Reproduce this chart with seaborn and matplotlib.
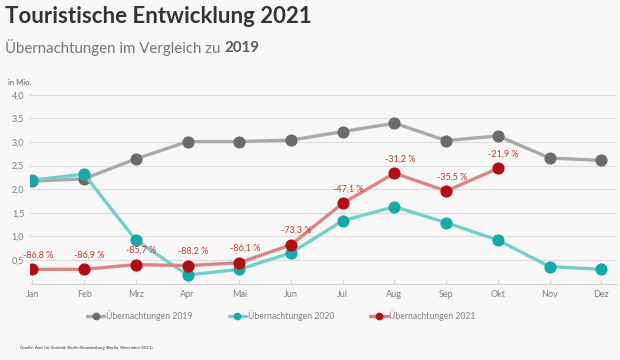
import matplotlib
matplotlib.use("Agg")
import matplotlib.pyplot as plt
import pandas as pd
import seaborn as sns

# Data
months = ["Jan", "Feb", "Mrz", "Apr", "Mai", "Jun", "Jul", "Aug", "Sep", "Okt", "Nov", "Dez"]
nights_2019 = [2.17, 2.22, 2.64, 3.01, 3.01, 3.04, 3.22, 3.40, 3.03, 3.13, 2.66, 2.61]
nights_2020 = [2.19, 2.32, 0.92, 0.18, 0.30, 0.65, 1.33, 1.63, 1.29, 0.92, 0.36, 0.30]
nights_2021 = [0.30, 0.30, 0.40, 0.38, 0.44, 0.82, 1.70, 2.34, 1.96, 2.44]
change_2021 = ["-86,8 %", "-86,9 %", "-85,7 %", "-88,2 %", "-86,1 %", "-73,3 %",
               "-47,1 %", "-31,2 %", "-35,5 %", "-21,9 %"]
yticks = [0.5, 1.0, 1.5, 2.0, 2.5, 3.0, 3.5, 4.0]

bg = "#f7f7f7"
sns.set_style("white")
plt.rcParams["font.family"] = ["Lato", "DejaVu Sans"]

fig = plt.figure(figsize=(6.2, 3.6), dpi=100)
fig.set_facecolor(bg)
ax = fig.add_axes([0.048, 0.2125, 0.947, 0.524])
ax.set_facecolor(bg)

series = [
    ("Übernachtungen 2019", nights_2019, "#a9a9a9", "#6b6b6b"),
    ("Übernachtungen 2020", nights_2020, "#74cfc9", "#16a9a6"),
    ("Übernachtungen 2021", nights_2021, "#d98585", "#b00d14"),
]
for label, vals, lc, mc in series:
    df = pd.DataFrame({"Monat": months[:len(vals)], "Wert": vals})
    sns.lineplot(data=df, x="Monat", y="Wert", ax=ax, color=lc, linewidth=2.4,
                 marker="o", markersize=8, markerfacecolor=mc, markeredgecolor=mc,
                 label=label, sort=False)

# percentage labels above the 2021 points
for i, (v, t) in enumerate(zip(nights_2021, change_2021)):
    ax.annotate(t, (i, v), xytext=(4, 7), textcoords="offset points",
                ha="center", va="bottom", fontsize=6.5, color="#c0392b")

ax.set_xlim(-0.05, 11.3)
ax.set_ylim(0, 4.0)
ax.set_yticks(yticks)
ax.set_yticklabels([f"{t:.1f}".replace(".", ",") for t in yticks])
ax.set_xticks(range(len(months)))
ax.set_xticklabels(months)
ax.grid(axis="y", color="#dcdcdc", linewidth=0.8)
ax.set_axisbelow(True)
for s in ["top", "right", "left"]:
    ax.spines[s].set_visible(False)
ax.spines["bottom"].set_color("#d0d0d0")
ax.tick_params(axis="x", colors="#d0d0d0", labelcolor="#7f7f7f", labelsize=6.5,
               length=3, direction="in", pad=5, bottom=True)
ax.tick_params(axis="y", labelcolor="#7f7f7f", labelsize=6.5, length=0, pad=4)
ax.set_xlabel("")
ax.set_ylabel("")

handles, labels = ax.get_legend_handles_labels()
ax.legend_.remove()
leg = fig.legend(handles, labels, loc="center", bbox_to_anchor=(0.454, 0.123), ncol=3,
                 frameon=False, fontsize=6.2, handlelength=2.0, columnspacing=4.2,
                 handletextpad=0.2, markerscale=0.6)
for txt in leg.get_texts():
    txt.set_color("#7f7f7f")

fig.text(0.013, 0.77, "in Mio.", fontsize=5.5, color="#595959", va="center")

# title and subtitle
fig.text(0.008, 0.955, "Touristische Entwicklung 2021", fontsize=16, fontweight="bold",
         color="#333333", va="center")
sub = fig.text(0.008, 0.868, "Übernachtungen im Vergleich zu ", fontsize=10.8,
               color="#767676", va="center")
fig.canvas.draw()
bb = sub.get_window_extent().transformed(fig.transFigure.inverted())
fig.text(bb.x1, 0.868, "2019", fontsize=10.8, fontweight="bold", color="#595959", va="center")

fig.text(0.032, 0.03, "Quelle: Amt für Statistik Berlin-Brandenburg (Berlin, November 2021)",
         fontsize=3.2, color="#333333")

fig.savefig("out.png", dpi=100, facecolor=bg)
